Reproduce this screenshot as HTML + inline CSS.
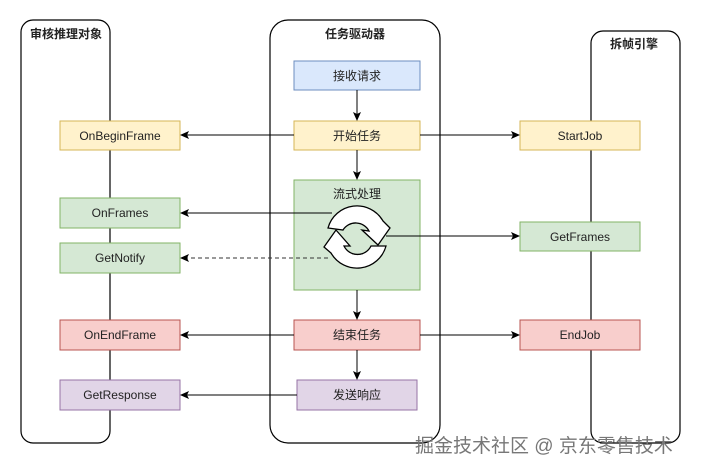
<!DOCTYPE html>
<html><head><meta charset="utf-8"><style>
html,body{margin:0;padding:0;background:#fff;}
svg{display:block;}
text{font-family:"Liberation Sans","Noto Sans CJK SC",sans-serif;font-size:12px;fill:#222;}
</style></head><body>
<svg width="701" height="471" viewBox="0 0 701 471" xmlns="http://www.w3.org/2000/svg">
<defs>
<marker id="a" markerWidth="10" markerHeight="10" refX="8" refY="5" orient="auto" markerUnits="userSpaceOnUse">
<path d="M0,1 L9,5 L0,9 L2,5 Z" fill="#000"/></marker>
</defs>
<!-- containers -->
<rect x="21" y="20" width="89" height="423" rx="12" fill="none" stroke="#000" stroke-width="1.2"/>
<rect x="270" y="20" width="170" height="423" rx="18" fill="none" stroke="#000" stroke-width="1.2"/>
<rect x="591" y="31" width="89" height="412" rx="12" fill="none" stroke="#000" stroke-width="1.2"/>
<text x="30" y="38" font-weight="bold">审核推理对象</text>
<text x="355" y="38" text-anchor="middle" font-weight="bold">任务驱动器</text>
<text x="634" y="48" text-anchor="middle" font-weight="bold">拆帧引擎</text>

<!-- middle boxes -->
<rect x="294" y="61" width="126" height="29" fill="#dae8fc" stroke="#6c8ebf"/>
<text x="357" y="80" text-anchor="middle">接收请求</text>
<rect x="294" y="121" width="126" height="29" fill="#fff2cc" stroke="#d6b656"/>
<text x="357" y="140" text-anchor="middle">开始任务</text>
<rect x="294" y="180" width="126" height="110" fill="#d5e8d4" stroke="#82b366"/>
<text x="357" y="198" text-anchor="middle">流式处理</text>
<rect x="294" y="320" width="126" height="30" fill="#f8cecc" stroke="#b85450"/>
<text x="357" y="339" text-anchor="middle">结束任务</text>
<rect x="297" y="380" width="120" height="30" fill="#e1d5e7" stroke="#9673a6"/>
<text x="357" y="399" text-anchor="middle">发送响应</text>

<!-- left boxes -->
<rect x="60" y="121" width="120" height="29" fill="#fff2cc" stroke="#d6b656"/>
<text x="120" y="140" text-anchor="middle">OnBeginFrame</text>
<rect x="60" y="198" width="120" height="30" fill="#d5e8d4" stroke="#82b366"/>
<text x="120" y="217" text-anchor="middle">OnFrames</text>
<rect x="60" y="243" width="120" height="30" fill="#d5e8d4" stroke="#82b366"/>
<text x="120" y="262" text-anchor="middle">GetNotify</text>
<rect x="60" y="320" width="120" height="30" fill="#f8cecc" stroke="#b85450"/>
<text x="120" y="339" text-anchor="middle">OnEndFrame</text>
<rect x="60" y="380" width="120" height="30" fill="#e1d5e7" stroke="#9673a6"/>
<text x="120" y="399" text-anchor="middle">GetResponse</text>

<!-- right boxes -->
<rect x="520" y="121" width="120" height="29" fill="#fff2cc" stroke="#d6b656"/>
<text x="580" y="140" text-anchor="middle">StartJob</text>
<rect x="520" y="222" width="120" height="29" fill="#d5e8d4" stroke="#82b366"/>
<text x="580" y="241" text-anchor="middle">GetFrames</text>
<rect x="520" y="320" width="120" height="30" fill="#f8cecc" stroke="#b85450"/>
<text x="580" y="339" text-anchor="middle">EndJob</text>

<!-- vertical arrows -->
<line x1="357" y1="90" x2="357" y2="120" stroke="#000" marker-end="url(#a)"/>
<line x1="357" y1="150" x2="357" y2="179" stroke="#000" marker-end="url(#a)"/>
<line x1="357" y1="290" x2="357" y2="319" stroke="#000" marker-end="url(#a)"/>
<line x1="357" y1="350" x2="357" y2="379" stroke="#000" marker-end="url(#a)"/>

<!-- horizontal arrows -->
<line x1="294" y1="135" x2="181" y2="135" stroke="#000" marker-end="url(#a)"/>
<line x1="420" y1="135" x2="519" y2="135" stroke="#000" marker-end="url(#a)"/>
<line x1="294" y1="335" x2="181" y2="335" stroke="#000" marker-end="url(#a)"/>
<line x1="420" y1="335" x2="519" y2="335" stroke="#000" marker-end="url(#a)"/>
<line x1="297" y1="395" x2="181" y2="395" stroke="#000" marker-end="url(#a)"/>
<line x1="332" y1="213" x2="181" y2="213" stroke="#000" marker-end="url(#a)"/>
<line x1="328" y1="258" x2="181" y2="258" stroke="#333" stroke-dasharray="4,3" marker-end="url(#a)"/>
<line x1="386" y1="236" x2="519" y2="236" stroke="#000" marker-end="url(#a)"/>

<!-- cycle icon -->
<g stroke="#000" stroke-width="1.3" fill="#fff" stroke-linejoin="miter">
<path d="M328,228 A30,30 0 0 1 383,221 L390,228 L378,245 L362,230 L369,231 A15,15 0 0 0 343,230 Z"/>
<path d="M386,246 A30,30 0 0 1 331,253 L324,247 L336,230 L350,246 L344,246 A15,15 0 0 0 371,246 Z"/>
</g>

<text x="415" y="452" style="font-size:19px;fill:#777;">掘金技术社区 @ 京东零售技术</text>
</svg>
</body></html>
